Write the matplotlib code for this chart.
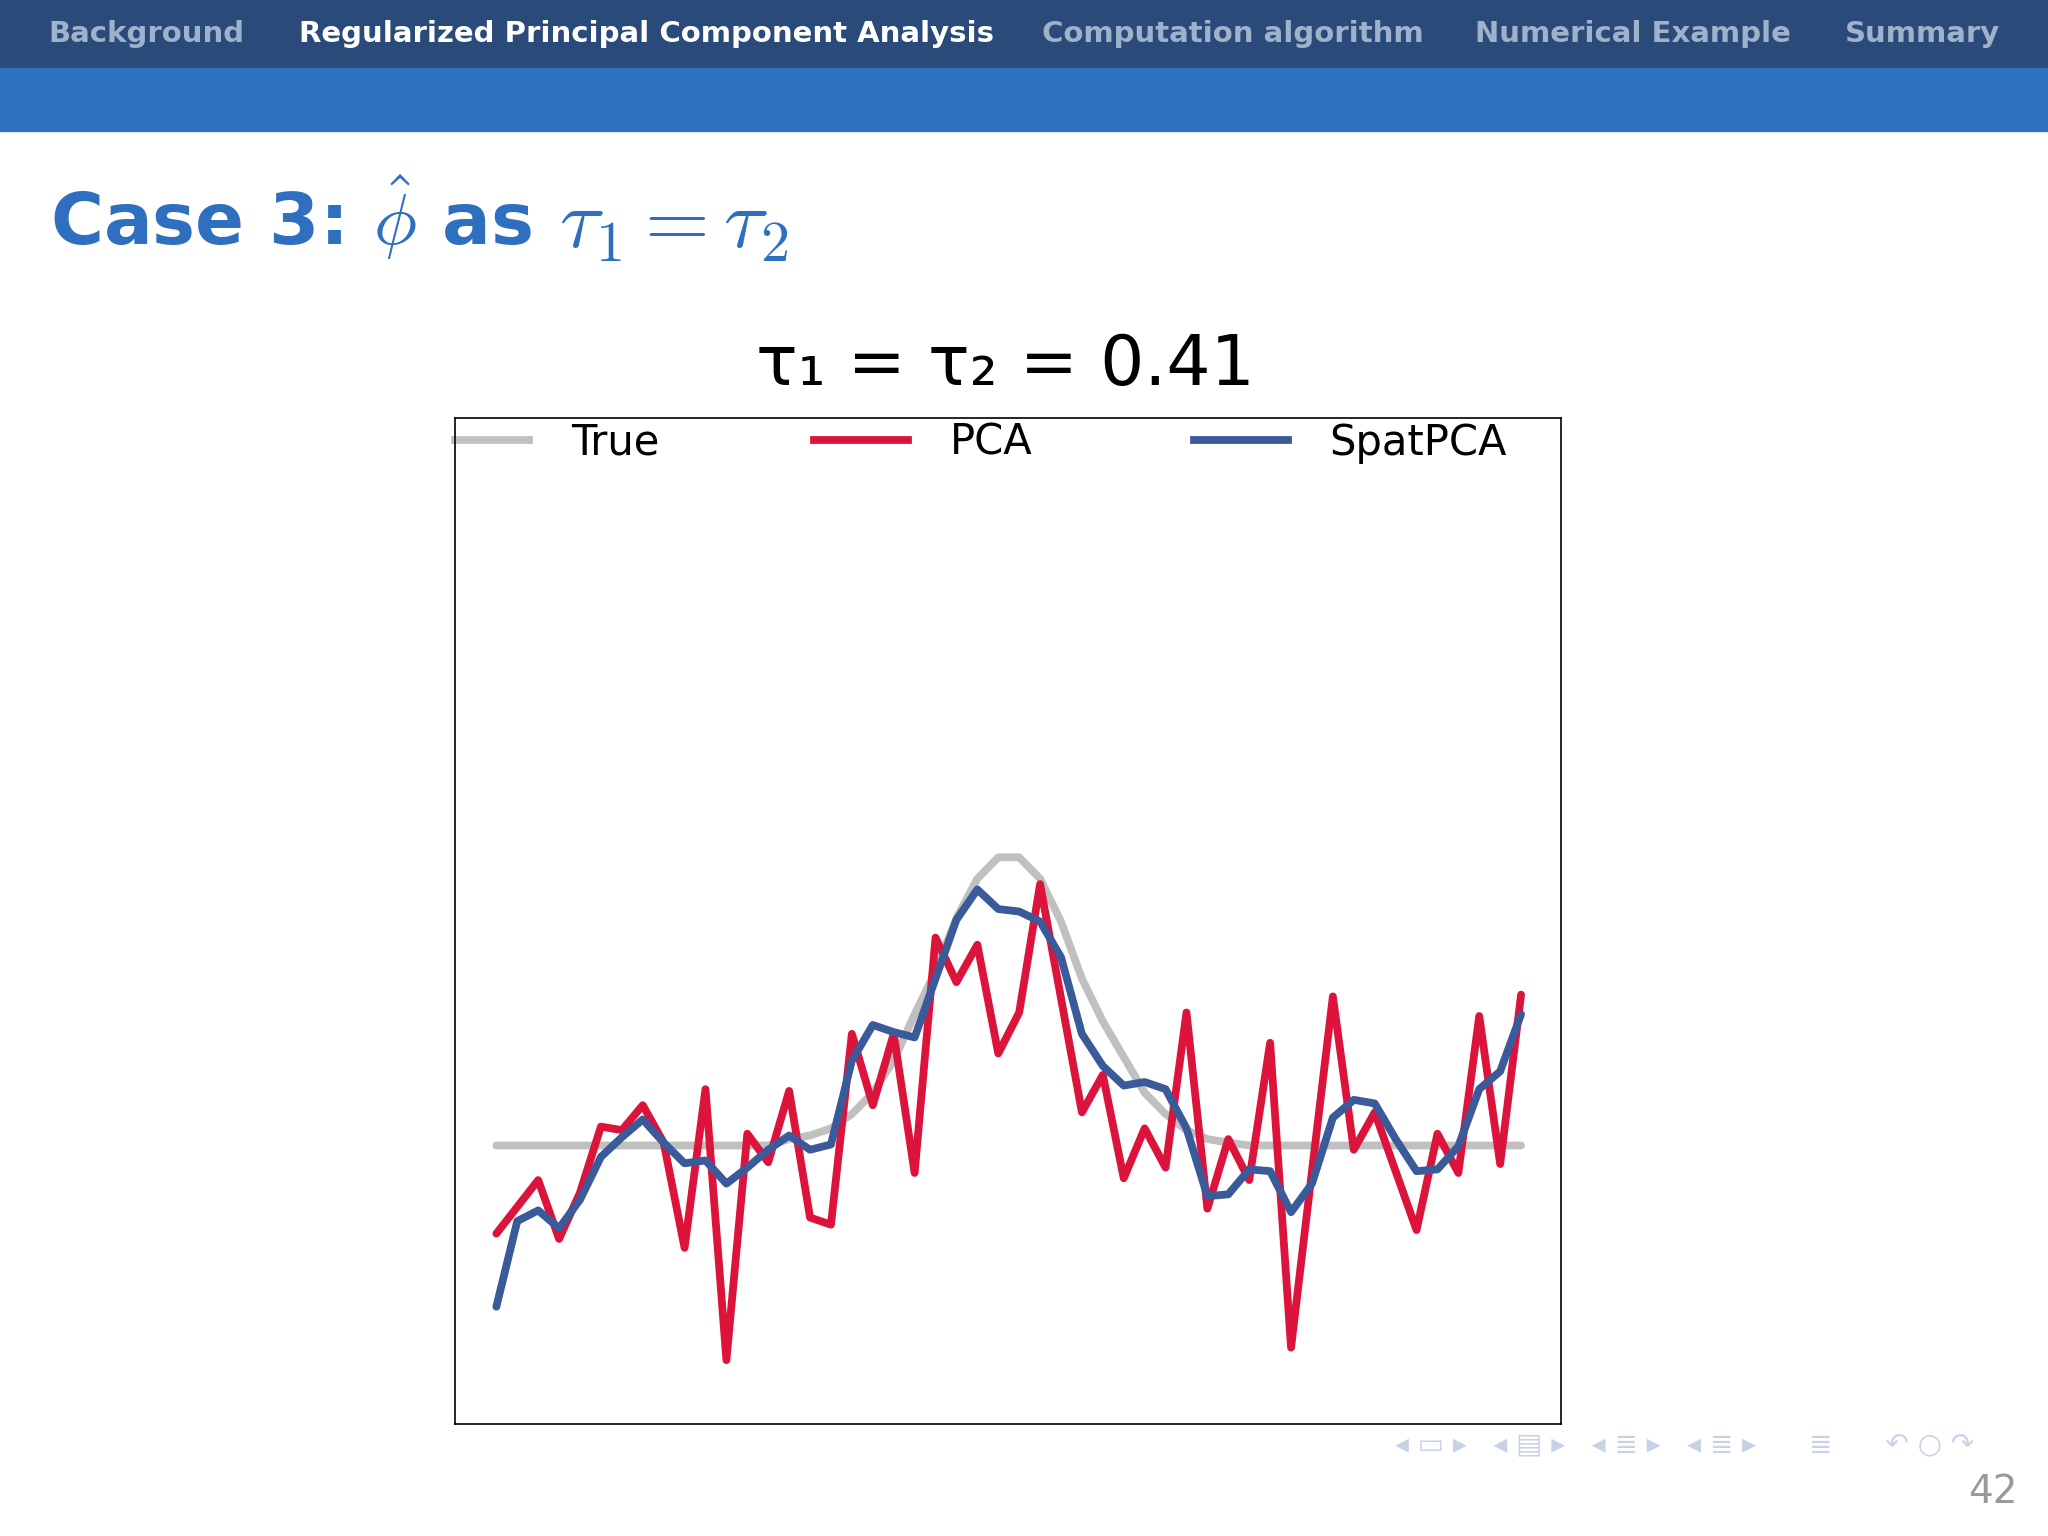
import matplotlib
matplotlib.use("Agg")
import matplotlib.pyplot as plt
from matplotlib.patches import Rectangle
import numpy as np

plt.rcParams['mathtext.fontset'] = 'cm'

nav_items = ["Background", "Regularized Principal Component Analysis",
             "Computation algorithm", "Numerical Example", "Summary"]
nav_active = 1
page_number = "42"

true_vals = [0]*14 + [0.18, 0.28, 0.48, 0.88, 1.48, 2.38, 3.68, 4.88, 6.38, 7.48,
                      8.08, 8.08, 7.48, 6.28, 4.68, 3.48, 2.48, 1.48, 0.88, 0.43,
                      0.18, 0.08] + [0]*14
pca_vals = [-2.47, -1.72, -0.97, -2.62, -1.32, 0.53, 0.43, 1.13, 0.08, -2.87,
            1.58, -6.02, 0.33, -0.47, 1.53, -2.02, -2.22, 3.13, 1.13, 3.13,
            -0.77, 5.83, 4.58, 5.63, 2.58, 3.73, 7.33, 4.13, 0.93, 1.98,
            -0.92, 0.48, -0.62, 3.73, -1.77, 0.18, -0.97, 2.88, -5.67, -0.72,
            4.18, -0.12, 0.93, -0.72, -2.37, 0.33, -0.77, 3.63, -0.52, 4.23]
spat_vals = [-4.52, -2.12, -1.82, -2.32, -1.52, -0.32, 0.23, 0.73, 0.08, -0.50,
             -0.42, -1.07, -0.62, -0.12, 0.28, -0.12, 0.03, 2.38, 3.38, 3.18,
             3.03, 4.68, 6.33, 7.18, 6.63, 6.56, 6.28, 5.28, 3.13, 2.23,
             1.68, 1.78, 1.58, 0.48, -1.42, -1.37, -0.67, -0.72, -1.87, -1.07,
             0.78, 1.28, 1.18, 0.18, -0.72, -0.67, -0.02, 1.58, 2.08, 3.68]
series_names = ["True", "PCA", "SpatPCA"]
series_colors = ["#c0c0c0", "#dc143c", "#3a5a9a"]

W, H = 1568, 1176  # layout reference units
fig = plt.figure(figsize=(20.48, 15.36), dpi=100)
fig.patch.set_facecolor("white")

def fx(x): return x / W
def fy(y): return 1 - y / H

fig.patches.append(Rectangle((0, fy(52)), 1, 52/H, transform=fig.transFigure, color="#2a4a7a", zorder=0))
fig.patches.append(Rectangle((0, fy(100)), 1, 48/H, transform=fig.transFigure, color="#2f73bf", zorder=0))
nav_x = [112, 495, 944, 1250, 1472]
for i, (t, x) in enumerate(zip(nav_items, nav_x)):
    fig.text(fx(x), fy(26), t, ha="center", va="center", fontsize=21, fontweight="bold",
             color="white" if i == nav_active else "#9fb2cc", family="DejaVu Sans")

fig.text(fx(38), fy(166), r"Case 3: $\hat{\phi}$ as", ha="left", va="center",
         fontsize=52, fontweight="bold", color="#2f6fbf", family="DejaVu Sans")
fig.text(fx(428), fy(172), r"$\tau_1 = \tau_2$", ha="left", va="center",
         fontsize=60, color="#2f6fbf")

fig.text(fx(1545), fy(1142), page_number, ha="right", va="center", fontsize=28, color="#999999")
fig.text(fx(1290), fy(1106), "◂ ▭ ▸   ◂ ▤ ▸   ◂ ≣ ▸   ◂ ≣ ▸      ≣      ↶ ○ ↷", ha="center", va="center",
         fontsize=20, color="#c8d2e6", family="DejaVu Sans")

ax = fig.add_axes([fx(348), fy(1090), (1195-348)/W, (1090-320)/H])
x = np.arange(len(pca_vals))
for vals, c in zip([true_vals, pca_vals, spat_vals], series_colors):
    ax.plot(x, vals, color=c, lw=5.6, solid_joinstyle="round", solid_capstyle="round")
ax.set_xlim(-2, 50.9)
ax.set_ylim(-7.8, 20.4)
ax.set_xticks([]); ax.set_yticks([])
for s in ax.spines.values():
    s.set_linewidth(1.2)

leg = [(348, 405, 437), (623, 695, 727), (914, 986, 1018)]
for (a, b, t), name, c in zip(leg, series_names, series_colors):
    ax.plot([(a-348)/847, (b-348)/847], [1-(337-320)/770]*2, transform=ax.transAxes,
            color=c, lw=5.6, clip_on=False)
    ax.text((t-348)/847, 1-(339-320)/770, name, transform=ax.transAxes, ha="left",
            va="center", fontsize=30)

fig.text(fx(770), fy(280), "τ₁ = τ₂ = 0.41", ha="center", va="center",
         fontsize=50, family="DejaVu Sans")

fig.savefig("out.png", dpi=100)
